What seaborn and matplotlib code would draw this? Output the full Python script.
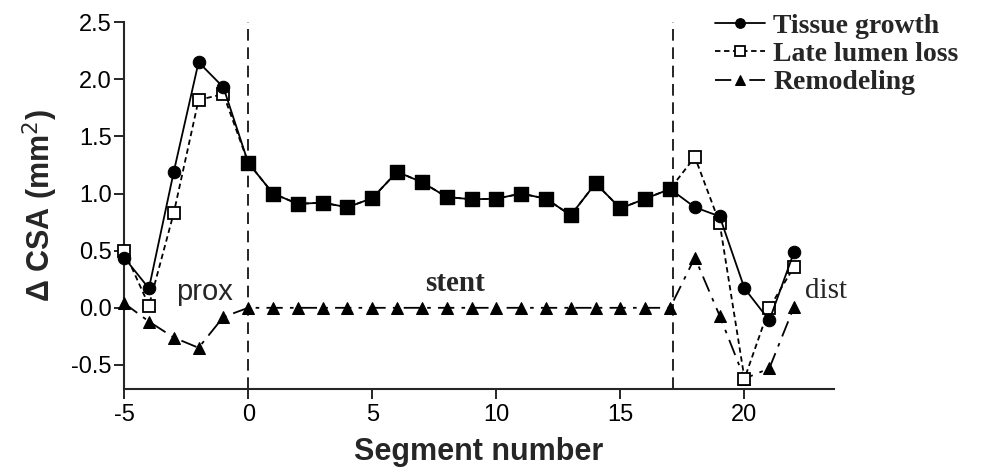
import numpy as np
import pandas as pd
import matplotlib
matplotlib.use("Agg")
import matplotlib.pyplot as plt
import seaborn as sns

segments = list(range(-5, 23))
tissue_growth = [0.44, 0.17, 1.19, 2.15, 1.93, 1.27, 1.00, 0.91, 0.92, 0.88,
                 0.96, 1.19, 1.10, 0.97, 0.95, 0.955, 1.00, 0.955, 0.81, 1.09,
                 0.87, 0.955, 1.04, 0.88, 0.80, 0.17, -0.11, 0.49]
late_lumen_loss = [0.50, 0.02, 0.83, 1.82, 1.87, 1.27, 1.00, 0.91, 0.92, 0.88,
                   0.96, 1.19, 1.10, 0.97, 0.95, 0.955, 1.00, 0.955, 0.81, 1.09,
                   0.87, 0.955, 1.04, 1.32, 0.74, -0.62, 0.00, 0.36]
remodeling = [0.04, -0.12, -0.26, -0.35, -0.08, 0.0, 0.0, 0.0, 0.0, 0.0,
              0.0, 0.0, 0.0, 0.0, 0.0, 0.0, 0.0, 0.0, 0.0, 0.0,
              0.0, 0.0, 0.0, 0.44, -0.07, -0.62, -0.53, 0.01]
series_names = ["Tissue growth", "Late lumen loss", "Remodeling"]
x_ticks = [-5, 0, 5, 10, 15, 20]
y_ticks = [-0.5, 0.0, 0.5, 1.0, 1.5, 2.0, 2.5]
region_bounds = [0, 17.1]

sns.set_theme(style="ticks")
plt.rcParams['font.family'] = ['Liberation Sans', 'DejaVu Sans']
plt.rcParams['axes.unicode_minus'] = False

fig = plt.figure(figsize=(10.01, 4.72), dpi=100)
ax = fig.add_axes([0.124, 0.176, 0.709, 0.777])

df = pd.DataFrame({"seg": segments, "tg": tissue_growth,
                   "lll": late_lumen_loss, "rem": remodeling})

for xb in region_bounds:
    ax.axvline(xb, color="black", lw=1.2, ls=(0, (7, 4)), zorder=1)

sns.lineplot(data=df, x="seg", y="rem", ax=ax, color="black", lw=1.3,
             marker="^", markersize=9, markeredgecolor="black",
             markerfacecolor="black", label=series_names[2], zorder=3)
ax.lines[-1].set_dashes((9, 4, 2, 4))
sns.lineplot(data=df, x="seg", y="lll", ax=ax, color="black", lw=1.3,
             marker="s", markersize=9, markeredgecolor="black",
             markerfacecolor="white", markeredgewidth=1.3,
             label=series_names[1], zorder=4)
ax.lines[-1].set_dashes((3, 2))
sns.lineplot(data=df, x="seg", y="tg", ax=ax, color="black", lw=1.3,
             marker="o", markersize=9, markeredgecolor="black",
             markerfacecolor="black", label=series_names[0], zorder=5)

# In the stent region both overlap -> filled square look
stent = df[(df.seg >= 0) & (df.seg <= 17)]
ax.scatter(stent.seg, stent.tg, marker="s", s=100, color="black", zorder=6)

for ln in ax.lines:
    ln.set_clip_on(False)

ax.set_xlim(-5, 23.6)
ax.set_ylim(-0.71, 2.5)
ax.set_xticks(x_ticks)
ax.set_yticks(y_ticks)
ax.set_yticklabels(["-0.5", "0.0", "0.5", "1.0", "1.5", "2.0", "2.5"])
ax.tick_params(axis="both", labelsize=17, direction="out", length=7, width=1.2,
               colors="black", pad=2)
ax.tick_params(axis="x", pad=4)
for s in ["left", "bottom"]:
    ax.spines[s].set_linewidth(1.5)
sns.despine(ax=ax)

ax.set_xlabel("Segment number", fontsize=22, fontweight="bold", labelpad=8)
ax.set_ylabel("\u0394 CSA (mm$^2$)", fontsize=22, fontweight="bold", labelpad=8)

ax.text(-1.75, 0.14, "prox", fontsize=21, ha="center", va="center")
ax.text(8.35, 0.21, "stent", fontsize=21, ha="center", va="center",
        family="Liberation Serif", fontweight="bold")
ax.text(23.3, 0.15, "dist", fontsize=21, ha="center", va="center",
        family="Liberation Serif")

h, l = ax.get_legend_handles_labels()
order = [2, 1, 0]
leg = ax.legend([h[i] for i in order], [l[i] for i in order],
                loc="upper left", bbox_to_anchor=(0.703, 0.995),
                bbox_transform=fig.transFigure, frameon=False,
                prop={"family": "Liberation Serif", "weight": "bold", "size": 20},
                handlelength=1.8, handletextpad=0.3, labelspacing=0.1,
                borderaxespad=0)
for lh in leg.legend_handles:
    lh.set_markersize(7)

fig.savefig("out.png", dpi=100)
